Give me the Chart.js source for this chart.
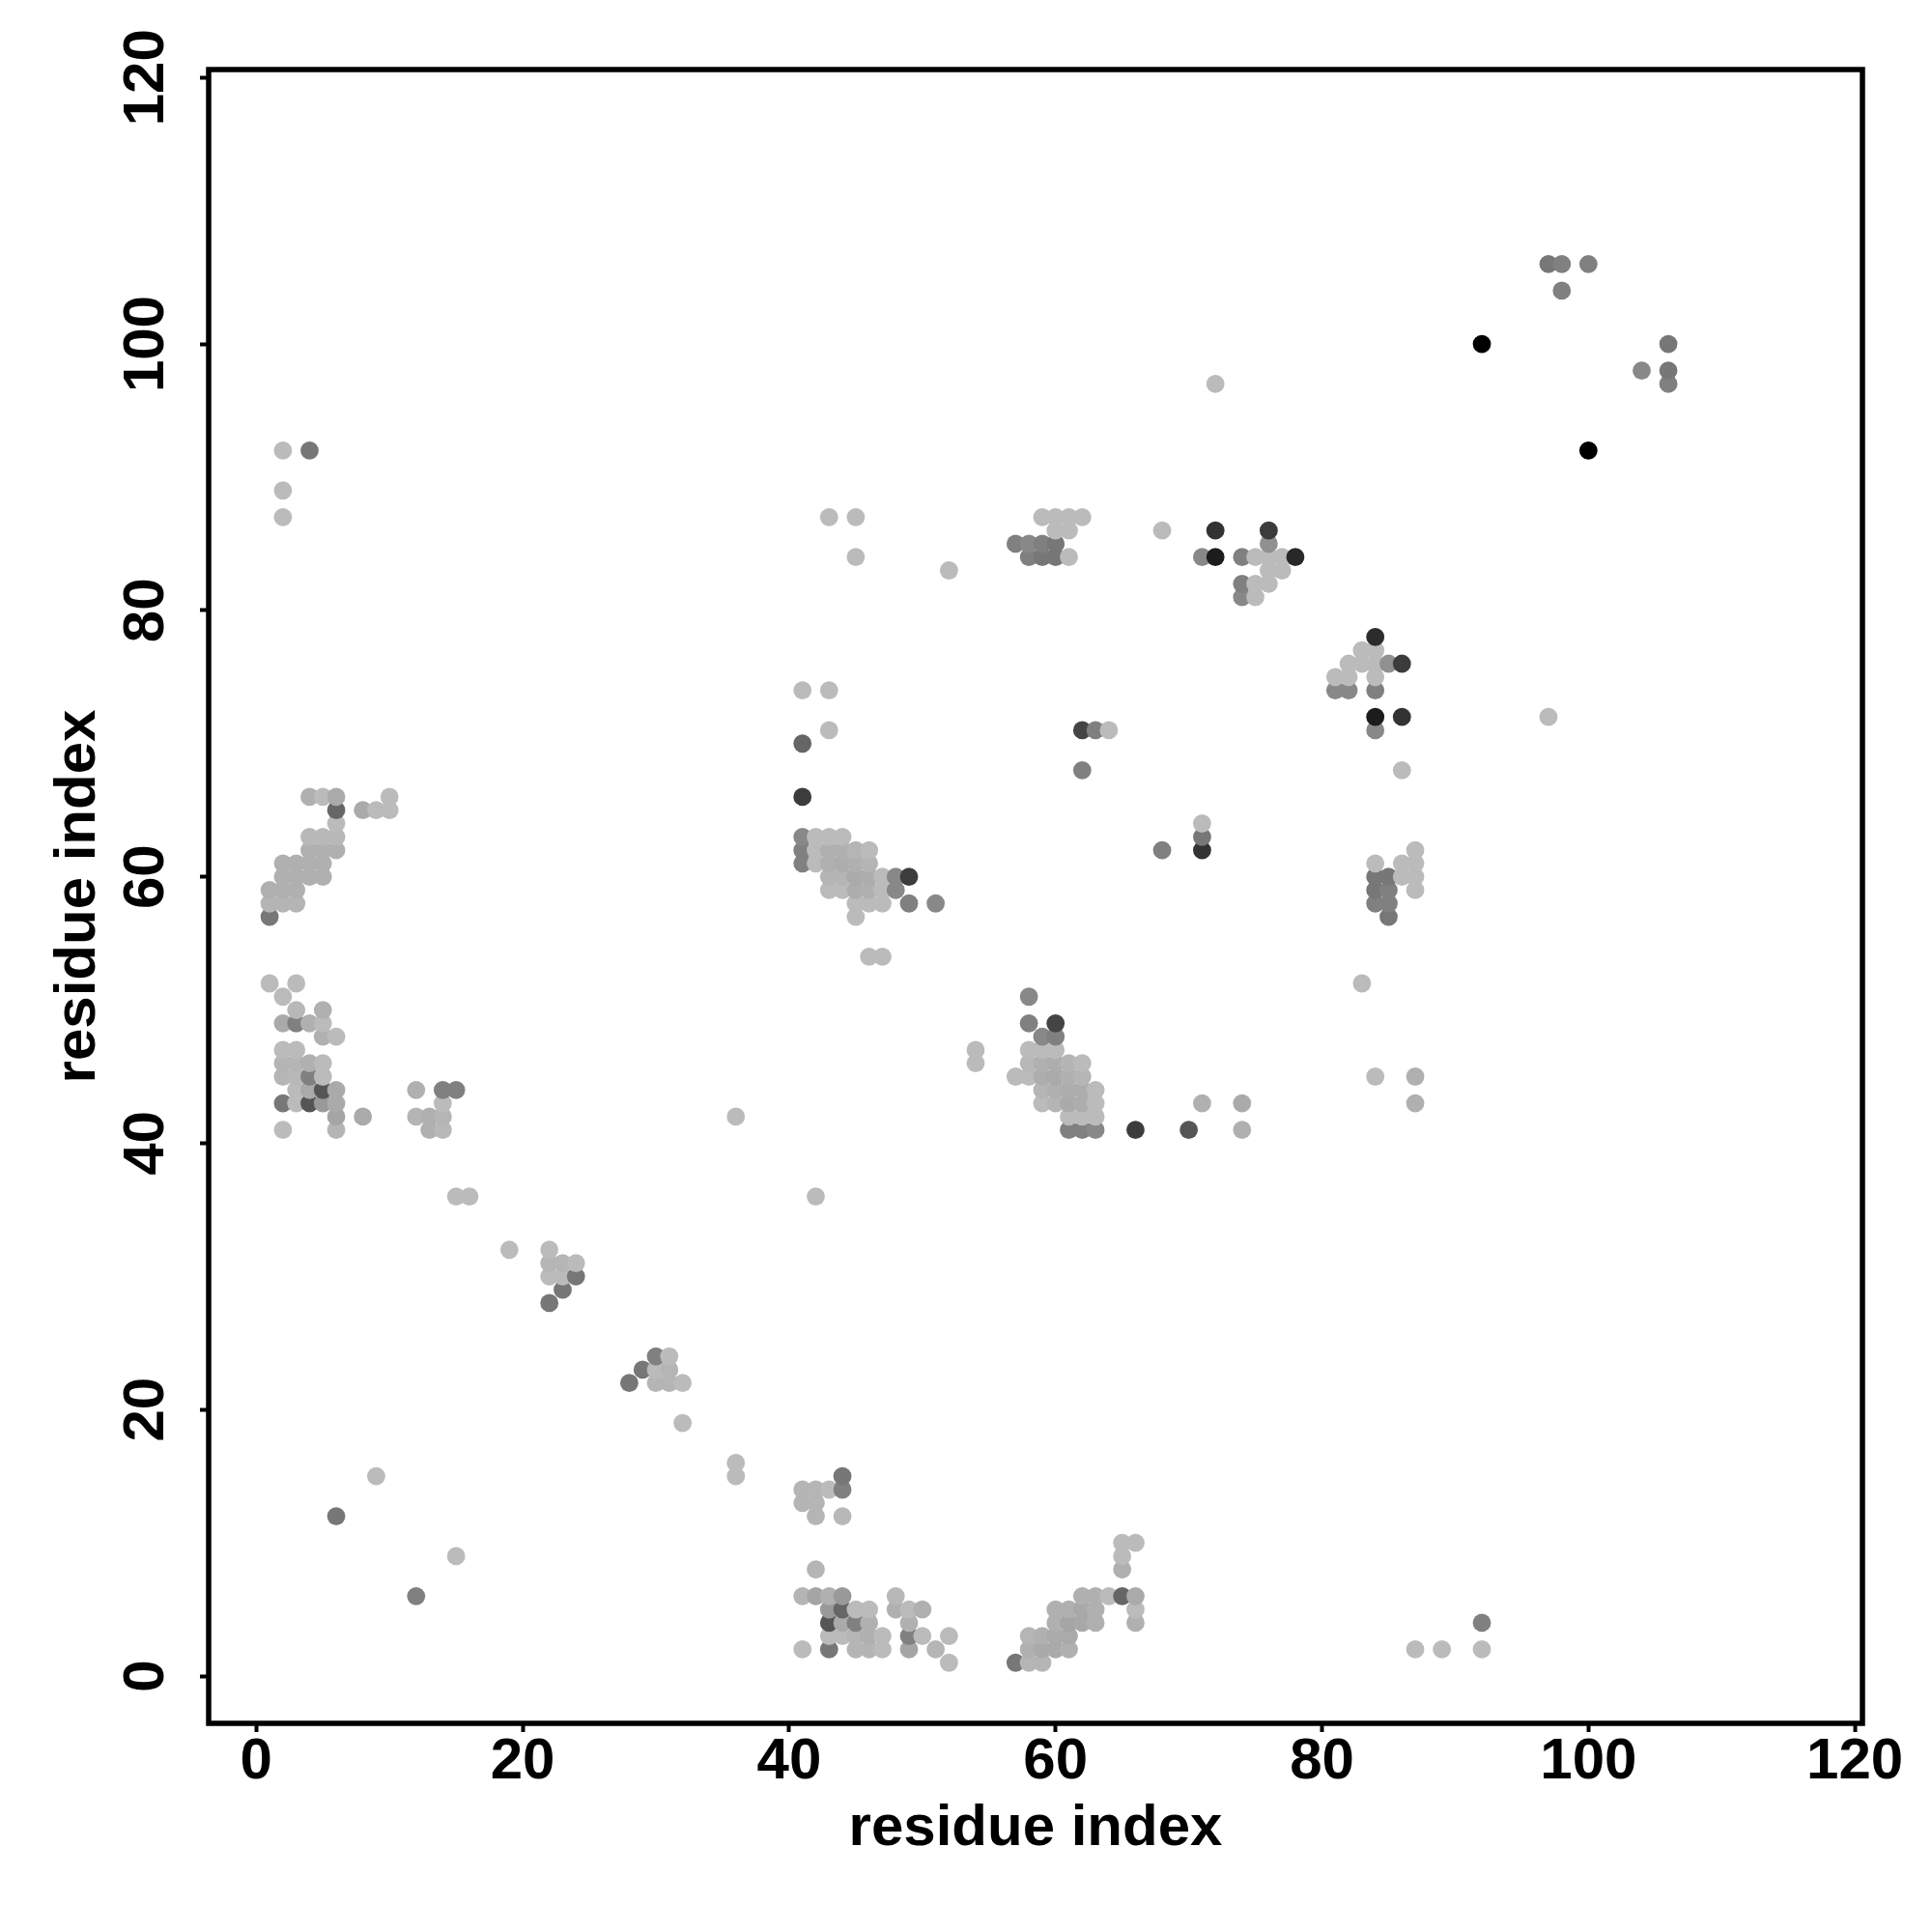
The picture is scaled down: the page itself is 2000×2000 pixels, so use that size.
<!DOCTYPE html>
<html>
<head>
<meta charset="utf-8">
<style>html,body{margin:0;padding:0;background:#fff}canvas{display:block}</style>
<script src="https://cdn.jsdelivr.net/npm/chart.js@4"></script>
</head>
<body>
<canvas id="c" width="2000" height="2000"></canvas>
<script>
// Each contact: [residue i, residue j, grey level]
const lowLeft = [
[9,15,0xbb],[6,12,0x77],[15,9,0xbb],[12,6,0x80]
];
const band22 = [
[22,32,0xbb],[22,31,0xb5],[23,31,0xb5],[24,31,0xbb],[22,30,0xbb],[23,30,0xbb],[24,30,0x77],[23,29,0x77],[22,28,0x77],
[19,32,0xbb],[15,36,0xbb],[16,36,0xbb]
];
const band30 = [
[30,24,0x80],[31,24,0xbb],[29,23,0x77],[30,23,0xbb],[31,23,0xb5],[28,22,0x77],[30,22,0xb5],[31,22,0xb5],[32,22,0xbb],
[32,19,0xbb],[36,16,0xbb],[36,15,0xbb],[36,42,0xbb],[42,36,0xbb],[54,47,0xbb],[54,46,0xbb]
];
const block44low = [
[44,15,0x77],[44,14,0x80],[41,14,0xb5],[42,14,0xb5],[43,14,0xbb],[41,13,0xb5],[42,13,0xb5],[42,12,0xb5],[44,12,0xb8],[42,8,0xb5],
[41,6,0xb5],[42,6,0xa5],[43,6,0xb0],[44,6,0x99],[48,6,0xb8],
[43,5,0x99],[44,5,0x66],[45,5,0xbb],[46,5,0xbb],[48,5,0xb0],[49,5,0xbb],[50,5,0xb0],
[43,4,0x55],[44,4,0xaa],[45,4,0x80],[46,4,0xb0],[49,4,0xb0],
[43,3,0xbb],[44,3,0xbb],[45,3,0xb5],[46,3,0xb0],[47,3,0xbb],[49,3,0x80],[50,3,0xbb],[52,3,0xbb],
[41,2,0xbb],[43,2,0x77],[45,2,0xb5],[46,2,0xb5],[47,2,0xbb],[49,2,0xa5],[51,2,0xb5],[52,1,0xbb]
];
const block60low = [
[65,10,0xbb],[66,10,0xbb],[65,9,0xbb],[65,8,0xb0],
[62,6,0xb0],[63,6,0xb0],[64,6,0xbb],[65,6,0x66],[66,6,0xaa],
[60,5,0xb0],[61,5,0xb0],[62,5,0xa8],[63,5,0xb0],[66,5,0xbb],
[60,4,0xb0],[61,4,0xa5],[62,4,0xa8],[63,4,0xb0],[66,4,0xb0],
[58,3,0xb5],[59,3,0xb0],[60,3,0xaa],[61,3,0xaa],
[58,2,0xb0],[59,2,0xaa],[60,2,0xaa],[61,2,0xb0],
[57,1,0x77],[58,1,0xb5],[59,1,0xb5],
[92,4,0x80],[87,2,0xbb],[89,2,0xbb],[92,2,0xbb]
];
const block4mid = [
[1,52,0xbb],[3,52,0xbb],[2,51,0xbb],[3,50,0xb8],[5,50,0xb0],
[2,49,0xaa],[3,49,0x80],[4,49,0xb0],[5,49,0xbb],[5,48,0xb0],[6,48,0xbb],
[2,47,0xbb],[3,47,0xbb],
[2,46,0xb5],[3,46,0xb5],[4,46,0xb0],[5,46,0xbb],
[2,45,0xb5],[3,45,0xb8],[4,45,0x80],[5,45,0xbb],
[3,44,0xbb],[4,44,0xaa],[5,44,0x55],[6,44,0xaa],
[2,43,0x77],[3,43,0xbb],[4,43,0x55],[5,43,0x99],[6,43,0xaa],
[6,42,0xa5],[8,42,0xaa],[2,41,0xbb],[6,41,0xb5],
[12,44,0xb0],[14,44,0x80],[15,44,0x80],[14,43,0xbb],
[12,42,0xb5],[13,42,0xb0],[14,42,0xb5],[13,41,0xb0],[14,41,0xb8]
];
const block4high = [
[4,66,0xb0],[5,66,0xbb],[6,66,0xaa],[10,66,0xbb],
[6,65,0x66],[8,65,0xaa],[9,65,0xbb],[10,65,0xbb],[6,64,0xbb],
[4,63,0xb8],[5,63,0xb8],[6,63,0xb8],[4,62,0xb0],[5,62,0xb0],[6,62,0xb0],
[2,61,0xb0],[3,61,0xb0],[4,61,0xb0],[5,61,0xb0],[2,60,0xb0],[3,60,0xb0],[4,60,0xb0],[5,60,0xb0],
[1,59,0xb0],[2,59,0xb0],[3,59,0xb0],[1,58,0xb5],[2,58,0xb5],[3,58,0xb5],[1,57,0x77],
[2,92,0xbb],[4,92,0x77],[2,89,0xbb],[2,87,0xbb]
];
const block60mid = [
[58,51,0x88],[58,49,0x80],[60,49,0x44],[59,48,0x88],[60,48,0x80],
[58,47,0xbb],[59,47,0xbb],[60,47,0xbb],
[58,46,0xb8],[59,46,0xb0],[60,46,0xad],[61,46,0xb5],[62,46,0xbb],
[57,45,0xbb],[58,45,0xbb],[59,45,0xad],[60,45,0xaa],[61,45,0xb0],[62,45,0xb5],
[59,44,0xb5],[60,44,0xb0],[61,44,0xad],[62,44,0xad],[63,44,0xbb],
[59,43,0xbb],[60,43,0xb5],[61,43,0xaa],[62,43,0xad],[63,43,0xbb],
[61,42,0xbb],[62,42,0xbb],[63,42,0xbb],
[61,41,0x80],[62,41,0x80],[63,41,0x88],[66,41,0x3c],
[70,41,0x55],[74,41,0xb0],[71,43,0xb0],[74,43,0xaa],
[84,45,0xbb],[87,45,0xb0],[87,43,0xb0],[83,52,0xbb]
];
const block44high = [
[41,74,0xbb],[43,74,0xbb],[43,71,0xbb],[41,70,0x66],[41,66,0x3c],
[41,63,0x88],[42,63,0xbb],[43,63,0xbb],[44,63,0xbb],
[41,62,0x80],[42,62,0xbb],[43,62,0xb0],[44,62,0xb0],[45,62,0xb5],[46,62,0xbb],
[41,61,0x80],[42,61,0xbb],[43,61,0xb0],[44,61,0xad],[45,61,0xb0],[46,61,0xb5],
[43,60,0xb5],[44,60,0xb5],[45,60,0xaa],[46,60,0xad],[47,60,0xbb],[48,60,0x88],[49,60,0x3c],
[43,59,0xbb],[44,59,0xbb],[45,59,0xad],[46,59,0xb0],[47,59,0xbb],[48,59,0x88],
[45,58,0xbb],[46,58,0xbb],[47,58,0xbb],[49,58,0x80],[51,58,0x88],
[45,57,0xbb],[46,54,0xbb],[47,54,0xbb],
[43,87,0xbb],[45,87,0xbb],[45,84,0xbb],[52,83,0xbb]
];
const blockMiddle = [
[62,71,0x44],[63,71,0x80],[64,71,0xbb],[62,68,0x80],[68,62,0x80],[71,64,0xbb],[71,63,0x77],[71,62,0x33]
];
const block60high = [
[59,87,0xbb],[60,87,0xbb],[61,87,0xbb],[62,87,0xbb],[60,86,0xbb],[61,86,0xbb],
[57,85,0x80],[58,85,0x88],[59,85,0x80],[60,85,0x77],
[58,84,0x80],[59,84,0x77],[60,84,0x77],[61,84,0xbb],
[68,86,0xbb],[72,86,0x33],[76,86,0x3c],[76,85,0x90],
[71,84,0x88],[72,84,0x1c],[74,84,0x80],[75,84,0xbb],[76,84,0xbb],[77,84,0xbb],[78,84,0x28],
[76,83,0xbb],[77,83,0xbb],[74,82,0x80],[75,82,0xbb],[76,82,0xbb],[74,81,0x88],[75,81,0xbb]
];
const block84 = [
[84,78,0x2c],[83,77,0xbb],[84,77,0xbb],
[82,76,0xbb],[83,76,0xbb],[84,76,0xbb],[85,76,0x90],[86,76,0x3c],
[81,75,0xbb],[82,75,0xbb],[84,75,0xbb],[81,74,0x88],[82,74,0x88],[84,74,0x80],
[84,72,0x1c],[86,72,0x33],[84,71,0x88],[86,68,0xbb],[97,72,0xbb],[72,97,0xbb],
[87,62,0xbb],[84,61,0xbb],[86,61,0xbb],[87,61,0xbb],
[84,60,0x77],[85,60,0x77],[86,60,0xbb],[87,60,0xbb],
[84,59,0x77],[85,59,0x80],[87,59,0xbb],[84,58,0x80],[85,58,0x80],[85,57,0x77]
];
const blockTopRight = [
[97,106,0x77],[98,106,0x80],[100,106,0x80],[98,104,0x80],[92,100,0x00],[106,100,0x77],
[104,98,0x88],[106,98,0x77],[106,97,0x80],[100,92,0x00]
];
const xTitle = "residue index";
const yTitle = "residue index";
const xLimits = [-3.575, 120.57];
const yLimits = [-3.55, 120.6];
const tickStep = 20;

const contacts = [].concat(lowLeft, band22, band30, block44low, block60low, block4mid, block4high,
  block60mid, block44high, blockMiddle, block60high, block84, blockTopRight)
  .sort((a, b) => a[1] - b[1] || a[0] - b[0]);

const fontFamily = '"Liberation Sans", Arial, sans-serif';

const framePlugin = {
  id: 'frame',
  beforeDraw(chart) {
    // centre the rotated y tick labels on their ticks
    const s = chart.scales.y;
    s.getLabelItems(chart.chartArea).forEach(item => {
      item.options.textAlign = 'center';
      item.options.translation[0] = 152;
    });
  },
  afterDraw(chart) {
    const a = chart.chartArea, ctx = chart.ctx;
    ctx.save();
    ctx.strokeStyle = '#000';
    ctx.lineWidth = 5.5;
    ctx.strokeRect(a.left, a.top, a.right - a.left, a.bottom - a.top);
    ctx.restore();
  }
};

new Chart(document.getElementById('c'), {
  type: 'scatter',
  data: {
    datasets: [{
      data: contacts.map(c => ({ x: c[0], y: c[1] })),
      backgroundColor: contacts.map(c => `rgb(${c[2]},${c[2]},${c[2]})`),
      borderWidth: 0,
      pointRadius: 9.4,
      pointHoverRadius: 9.4
    }]
  },
  options: {
    responsive: false,
    animation: false,
    devicePixelRatio: 1,
    layout: { padding: { top: 72, right: 72, left: 0, bottom: 0 } },
    plugins: { legend: { display: false }, tooltip: { enabled: false } },
    scales: {
      x: {
        type: 'linear', position: 'bottom',
        min: xLimits[0], max: xLimits[1],
        border: { display: false },
        grid: { drawOnChartArea: false, drawTicks: true, tickLength: 9, tickWidth: 4, tickColor: '#000' },
        ticks: { stepSize: tickStep, includeBounds: false, color: '#000', padding: -5, maxRotation: 0, minRotation: 0,
          font: { family: fontFamily, weight: 'bold', size: 60 } },
        title: { display: true, text: xTitle, color: '#000', padding: { top: 0, bottom: 71 },
          font: { family: fontFamily, weight: 'bold', size: 60 } },
        afterFit(s) { s.height = 216; }
      },
      y: {
        type: 'linear', position: 'left',
        min: yLimits[0], max: yLimits[1],
        border: { display: false },
        grid: { drawOnChartArea: false, drawTicks: true, tickLength: 9, tickWidth: 4, tickColor: '#000' },
        ticks: { stepSize: tickStep, includeBounds: false, color: '#000', padding: 30, minRotation: 90, maxRotation: 90,
          font: { family: fontFamily, weight: 'bold', size: 60 } },
        title: { display: true, text: yTitle, color: '#000', padding: { top: 45, bottom: 0 },
          font: { family: fontFamily, weight: 'bold', size: 60 } },
        afterFit(s) { s.width = 216; }
      }
    }
  },
  plugins: [framePlugin]
});
</script>
</body>
</html>
